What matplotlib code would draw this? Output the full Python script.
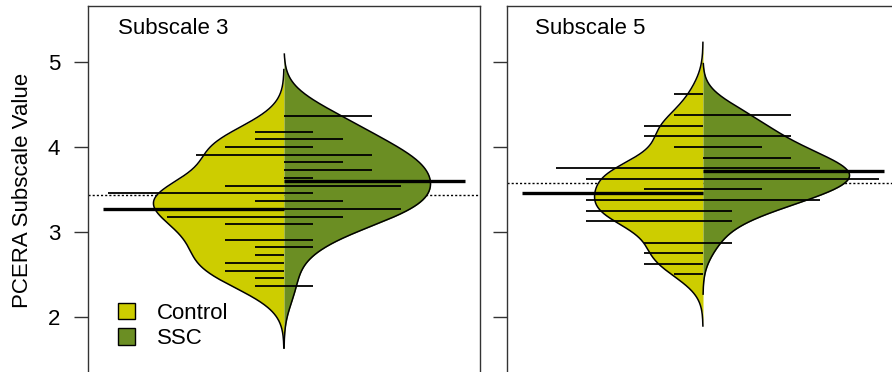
import numpy as np
import matplotlib
matplotlib.use("Agg")
import matplotlib.pyplot as plt
from matplotlib.patches import Patch

plt.rcParams['font.family'] = ['Liberation Sans', 'DejaVu Sans']

groups = ['Control', 'SSC']
colors = ['#CDCD00', '#6B8E23']
titles = ['Subscale 3', 'Subscale 5']

# Subscale 3: distinct values and how many respondents gave each
s3_ctrl_vals = [4.182, 4.091, 4.000, 3.909, 3.545, 3.455, 3.364, 3.182,
                3.091, 2.909, 2.818, 2.727, 2.636, 2.545, 2.455, 2.364]
s3_ctrl_n = [1, 1, 2, 3, 2, 6, 1, 4, 2, 2, 1, 1, 2, 2, 1, 1]
s3_ssc_vals = [4.364, 4.182, 4.091, 4.000, 3.909, 3.818, 3.727, 3.636, 3.545,
               3.455, 3.364, 3.273, 3.182, 3.091, 2.909, 2.818, 2.364]
s3_ssc_n = [3, 1, 2, 1, 3, 2, 3, 1, 4, 1, 2, 4, 2, 1, 1, 1, 1]

# Subscale 5
s5_ctrl_vals = [4.625, 4.375, 4.25, 4.125, 4.0, 3.75, 3.625, 3.5, 3.375,
                3.25, 3.125, 2.875, 2.75, 2.625, 2.5]
s5_ctrl_n = [1, 1, 2, 2, 1, 5, 4, 2, 4, 4, 4, 2, 2, 2, 1]
s5_ssc_vals = [4.375, 4.125, 4.0, 3.875, 3.75, 3.625, 3.5, 3.375, 3.25,
               3.125, 2.875]
s5_ssc_n = [3, 3, 2, 3, 4, 6, 2, 4, 1, 1, 1]

panels = [
    [(s3_ctrl_vals, s3_ctrl_n), (s3_ssc_vals, s3_ssc_n)],
    [(s5_ctrl_vals, s5_ctrl_n), (s5_ssc_vals, s5_ssc_n)],
]
bandwidths = [0.243, 0.202]

MAXW = 0.8    # widest half-bean
LL = 0.16     # length of one data line
AVG_LEN = 0.99


def kde(data, grid, bw):
    z = (grid[:, None] - data[None, :]) / bw
    return np.exp(-0.5 * z ** 2).sum(1) / (len(data) * bw * np.sqrt(2 * np.pi))


fig = plt.figure(figsize=(8.92, 3.72), dpi=100)
lefts = [88 / 892, 507 / 892]
axes = [fig.add_axes([l, -2 / 372, 392 / 892, 368 / 372]) for l in lefts]

for i, ax in enumerate(axes):
    bw = bandwidths[i]
    data = [np.repeat(np.array(v, float), n) for v, n in panels[i]]
    overall = np.concatenate(data).mean()
    ax.axhline(overall, color='black', lw=1.0, ls=(0, (1.5, 1.5)), zorder=1)

    grids, dens = [], []
    for d in data:
        g = np.linspace(d.min() - 3 * bw, d.max() + 3 * bw, 400)
        grids.append(g)
        dens.append(kde(d, g, bw))
    scale = MAXW / max(dd.max() for dd in dens)

    for j, (d, g, dd) in enumerate(zip(data, grids, dens)):
        sgn = -1 if j == 0 else 1
        w = dd * scale
        ax.fill_betweenx(g, 0, sgn * w, color=colors[j], lw=0, zorder=2)
        ax.plot(sgn * w, g, color='black', lw=1.1, zorder=3)

    for j, (vals, ns) in enumerate(panels[i]):
        sgn = -1 if j == 0 else 1
        for v, n in zip(vals, ns):
            ax.plot([0, sgn * n * LL], [v, v], color='black', lw=1.3,
                    solid_capstyle='butt', zorder=4)
        ax.plot([0, sgn * AVG_LEN], [data[j].mean()] * 2, color='black',
                lw=2.4, solid_capstyle='butt', zorder=5)

    ax.set_xlim(-1.07, 1.07)
    ax.set_ylim(1.329, 5.659)
    ax.set_xticks([])
    ax.set_yticks([2, 3, 4, 5])
    ax.tick_params(axis='y', length=10, width=1, pad=10, labelsize=16,
                   color='#333333')
    for s in ax.spines.values():
        s.set_linewidth(1.0)
        s.set_color('#333333')
    ax.text([30, 28][i] / 392, 1 - 23 / 368, titles[i], transform=ax.transAxes,
            fontsize=16, ha='left', va='center')
    if i == 1:
        ax.set_yticklabels([])

axes[0].set_ylabel('PCERA Subscale Value', fontsize=16, labelpad=11)
handles = [Patch(facecolor=c, edgecolor='black', lw=1) for c in colors]
axes[0].legend(handles, groups, loc='lower left', frameon=False, fontsize=16,
               bbox_to_anchor=(30 / 392, 25 / 368), borderpad=0, borderaxespad=0,
               handlelength=0.77, handleheight=0.77, handletextpad=1.0,
               labelspacing=0.2)

fig.savefig('out.png', dpi=100, facecolor='white')
